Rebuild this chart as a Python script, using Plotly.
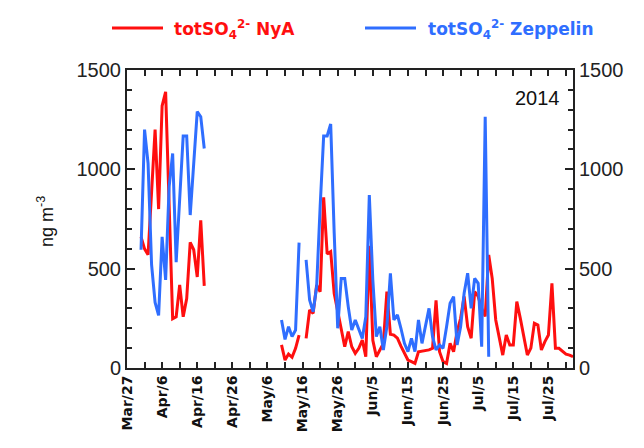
import plotly.graph_objects as go
from datetime import datetime, timedelta

base = datetime(2014, 3, 27)

# Day offsets from Mar 27, 2014 (None = gap in record)
nya_day = [4, 5, 6, 8, 9, 10, 11, 13, 14, 15, 16, 17, 18, 19, 20, 21, 22, None,
           44, 45, 46, 47, 48, 49, None,
           51, 52, 53, 54, 55, 56, 57, 58, 59, 60, 61, 62, 63, 64, 65, 66, 67, 68, 69, 70,
           71, 72, 73, 74, 75, 76, 77, 78, 79, 80, 81, 82, 83, 84, 85, 86, 87, 88, 89, 90,
           91, 92, 93, 94, 95, 96, 97, 98, 99, 100, 101, 102, 103, 104, 105, 106, 107, 108,
           109, 110, 111, 112, 113, 114, 115, 116, 117, 118, 119, 120, 121, 122, 123, 124,
           125, 126, 127]
nya_val = [660, 600, 570, 1200, 800, 1320, 1390, 248, 258, 418, 258, 350, 632, 595, 458, 743, 413, None,
           116, 40, 70, 54, 99, 166, None,
           149, 292, 275, 418, 384, 859, 574, 586, 375, 280, 190, 107, 183, 107, 74, 99, 141, 57, 615, 140,
           57, 90, 124, 384, 170, 166, 150, 110, 74, 40, 32, 23, 82, 85, 88, 91, 99, 340, 82, 32,
           23, 124, 82, 183, 250, 360, 208, 150, 384, 360, 300, 260, 569, 450, 242, 158, 65, 166,
           116, 116, 334, 250, 160, 65, 100, 225, 216, 91, 133, 166, 426, 99, 99, 85,
           70, 65, 57]

zep_day = [4, 5, 6, 7, 8, 9, 10, 11, 12, 13, 14, 16, 17, 18, 20, 21, 22, None,
           44, 45, 46, 47, 48, 49, None,
           51, 52, 53, 54, 55, 56, 57, 58, 59, 60, 61, 62, 63, 64, 65, 66, 67, 68, 69, 70,
           71, 72, 73, 74, 75, 76, 77, 78, 79, 80, 81, 82, 83, 84, 85, 86, 87, 88, 89, 90,
           91, 92, 93, 94, 95, 96, 97, 98, 99, 100, 101, 102, 103, 105, None,
           108, 109, None,
           115, 116]
zep_val = [595, 1200, 1030, 520, 330, 265, 660, 443, 913, 1080, 533, 1168, 1168, 770, 1290, 1265, 1105, None,
           242, 144, 208, 158, 191, 631, None,
           544, 342, 283, 409, 812, 1168, 1168, 1228, 679, 200, 451, 451, 309, 191, 242, 191, 149, 258, 871, 443,
           158, 208, 91, 208, 477, 242, 267, 200, 124, 82, 149, 82, 242, 124, 208, 300, 158, 91, 116, 99,
           208, 326, 359, 116, 208, 376, 477, 300, 451, 426, 107, 1265, 57, None,
           91, 91, None,
           116, 116]

tick_days = [0, 10, 20, 30, 40, 50, 60, 70, 80, 90, 100, 110, 120]
tick_labels = ["Mar/27", "Apr/6", "Apr/16", "Apr/26", "May/6", "May/16", "May/26",
               "Jun/5", "Jun/15", "Jun/25", "Jul/5", "Jul/15", "Jul/25"]


def to_dates(days):
    return [None if d is None else (base + timedelta(days=d)).strftime("%Y-%m-%d") for d in days]


RED = "#ff0f0f"
BLUE = "#2f6eff"

# The page body has an 8px margin, so the figure is offset by 8px; compensate here.
OFF = 8
W, H = 644 - OFF, 448 - OFF
PL, PR, PT, PB = 127 - OFF, 573 - OFF, 70 - OFF, 368 - OFF  # plot-area edges in figure px
PW, PH = PR - PL, PB - PT


def px(xp):
    return (xp - OFF - PL) / PW


def py(yp):
    return (PB - (yp - OFF)) / PH


fig = go.Figure()
fig.add_trace(go.Scatter(x=to_dates(nya_day), y=nya_val, mode="lines", name="totSO4 2- NyA",
                         line=dict(color=RED, width=3), showlegend=False))
fig.add_trace(go.Scatter(x=to_dates(zep_day), y=zep_val, mode="lines", name="totSO4 2- Zeppelin",
                         line=dict(color=BLUE, width=3), showlegend=False, yaxis="y2"))

axis_col = "#222222"
fig.update_layout(
    width=W, height=H,
    margin=dict(l=PL, r=W - PR, t=PT, b=H - PB),
    paper_bgcolor="white", plot_bgcolor="white",
    xaxis=dict(
        range=[base.strftime("%Y-%m-%d"), (base + timedelta(days=127)).strftime("%Y-%m-%d")],
        tickvals=to_dates(tick_days), ticktext=tick_labels, tickangle=-90,
        ticks="inside", ticklen=6, tickwidth=1.5, tickcolor=axis_col,
        minor=dict(dtick=5 * 86400000, tick0=base.strftime("%Y-%m-%d"), ticks="inside",
                   ticklen=6, tickwidth=1.5, tickcolor=axis_col),
        showline=True, linecolor=axis_col, linewidth=2, mirror="ticks",
        showgrid=False, zeroline=False,
        tickfont=dict(family="DejaVu Sans", size=14, color="#111", weight="bold"),
    ),
    yaxis=dict(
        range=[0, 1500], tickvals=[0, 500, 1000, 1500],
        ticks="inside", ticklen=8, tickwidth=1.5, tickcolor=axis_col,
        minor=dict(dtick=100, ticks="inside", ticklen=5, tickwidth=1.5, tickcolor=axis_col),
        showline=True, linecolor=axis_col, linewidth=2, mirror=True,
        showgrid=False, zeroline=False,
        tickfont=dict(family="Liberation Sans", size=20, color="#222"),
    ),
    yaxis2=dict(
        range=[0, 1500], tickvals=[0, 500, 1000, 1500], overlaying="y", side="right",
        ticks="inside", ticklen=8, tickwidth=1.5, tickcolor=axis_col,
        minor=dict(dtick=100, ticks="inside", ticklen=5, tickwidth=1.5, tickcolor=axis_col),
        showline=True, linecolor=axis_col, linewidth=2,
        showgrid=False, zeroline=False,
        tickfont=dict(family="Liberation Sans", size=20, color="#222"),
    ),
)

# Legend drawn manually to match the reference layout
ly = py(28)
fig.add_shape(type="line", xref="paper", yref="paper", x0=px(112), x1=px(163),
              y0=ly, y1=ly, line=dict(color=RED, width=3))
fig.add_shape(type="line", xref="paper", yref="paper", x0=px(365), x1=px(416),
              y0=ly, y1=ly, line=dict(color=BLUE, width=3))
fig.add_annotation(xref="paper", yref="paper", x=px(172), y=py(30), xanchor="left", yanchor="middle",
                   text="totSO<sub>4</sub><sup>2-</sup> NyA", showarrow=False,
                   font=dict(family="DejaVu Sans", size=17, color=RED, weight="bold"))
fig.add_annotation(xref="paper", yref="paper", x=px(426), y=py(30), xanchor="left", yanchor="middle",
                   text="totSO<sub>4</sub><sup>2-</sup> Zeppelin", showarrow=False,
                   font=dict(family="DejaVu Sans", size=17, color=BLUE, weight="bold"))

fig.add_annotation(xref="paper", yref="paper", x=px(537), y=py(98),
                   xanchor="center", yanchor="middle", text="2014", showarrow=False,
                   font=dict(family="Liberation Sans", size=20, color="#111"))
fig.add_annotation(xref="paper", yref="paper", x=px(46), y=py(222),
                   xanchor="center", yanchor="middle", textangle=-90, text="ng m<sup>-3</sup>",
                   showarrow=False, font=dict(family="Liberation Sans", size=18, color="#111"))

fig.write_html("out.html")
